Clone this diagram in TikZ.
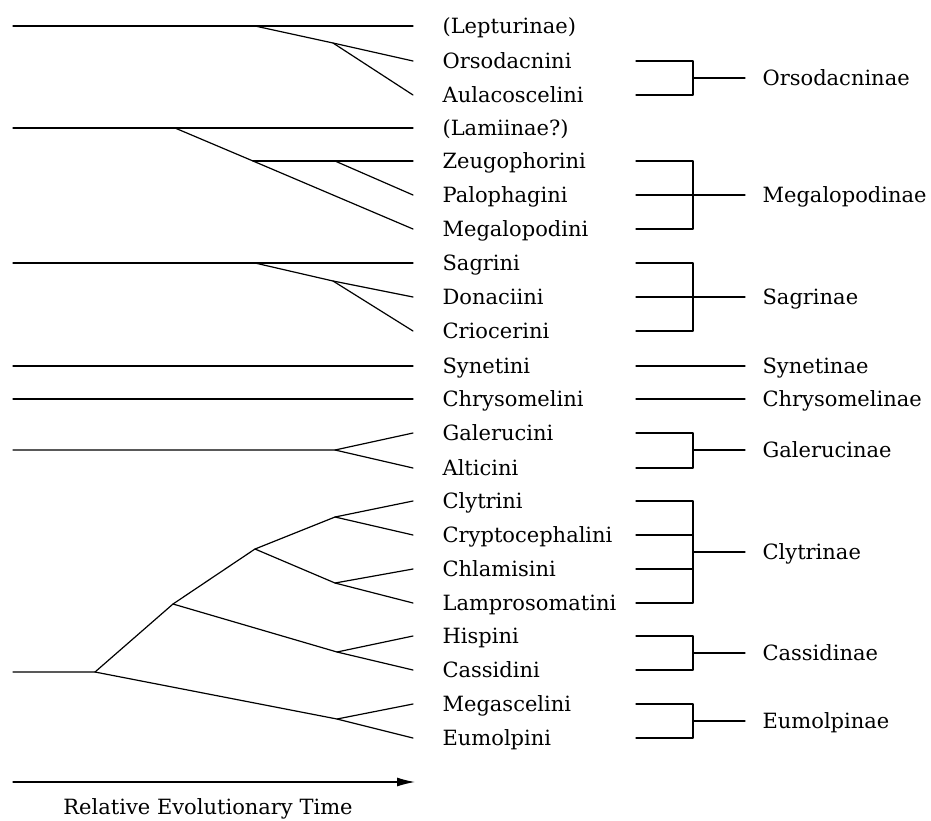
\documentclass[tikz,border=0pt]{standalone}
\usepackage{fontspec}
\setmainfont{DejaVu Serif}
\usetikzlibrary{arrows.meta}
\begin{document}
\begin{tikzpicture}[x=1pt,y=-1pt,line width=1.2pt,line cap=round,line join=round]
	\tikzstyle{tribu}=[anchor=west,inner xsep=29pt,inner ysep=0pt,text height=15pt,text depth=0pt,font=\fontsize{21}{25}\selectfont];
	\tikzstyle{famille}=[anchor=west,inner xsep=17pt,inner ysep=0pt,text height=15pt,text depth=0pt,font=\fontsize{21}{25}\selectfont];
	\useasboundingbox (0,0) rectangle (931,820);
	%% tribes (west anchor = tip of the tree)
	\node[tribu] (lept) at (413,26)  {(Lepturinae)};
	\node[tribu] (orso) at (413,61)  {Orsodacnini};
	\node[tribu] (aula) at (413,95)  {Aulacoscelini};
	\node[tribu] (lami) at (413,128) {(Lamiinae?)};
	\node[tribu] (zeug) at (413,161) {Zeugophorini};
	\node[tribu] (palo) at (413,195) {Palophagini};
	\node[tribu] (mgpd) at (413,229) {Megalopodini};
	\node[tribu] (sagr) at (413,263) {Sagrini};
	\node[tribu] (dona) at (413,297) {Donaciini};
	\node[tribu] (crio) at (413,331) {Criocerini};
	\node[tribu] (syne) at (413,366) {Synetini};
	\node[tribu] (chry) at (413,399) {Chrysomelini};
	\node[tribu] (gale) at (413,433) {Galerucini};
	\node[tribu] (alti) at (413,468) {Alticini};
	\node[tribu] (clyt) at (413,501) {Clytrini};
	\node[tribu] (cryp) at (413,535) {Cryptocephalini};
	\node[tribu] (chla) at (413,569) {Chlamisini};
	\node[tribu] (lamp) at (413,603) {Lamprosomatini};
	\node[tribu] (hisp) at (413,636) {Hispini};
	\node[tribu] (cass) at (413,670) {Cassidini};
	\node[tribu] (mgsc) at (413,704) {Megascelini};
	\node[tribu] (eumo) at (413,738) {Eumolpini};
	%% subfamilies
	\node[famille] (fOrso) at (745,78)  {Orsodacninae};
	\node[famille] (fMgpd) at (745,195) {Megalopodinae};
	\node[famille] (fSagr) at (745,297) {Sagrinae};
	\node[famille] (fSyne) at (745,366) {Synetinae};
	\node[famille] (fChry) at (745,399) {Chrysomelinae};
	\node[famille] (fGale) at (745,450) {Galerucinae};
	\node[famille] (fClyt) at (745,552) {Clytrinae};
	\node[famille] (fCass) at (745,653) {Cassidinae};
	\node[famille] (fEumo) at (745,721) {Eumolpinae};
	%% branching points
	\coordinate (lep0) at (13,26);  \coordinate (lep1) at (255,26);  \coordinate (lep2) at (333,43);
	\coordinate (lam0) at (13,128); \coordinate (lam1) at (175,128); \coordinate (lam2) at (253,161); \coordinate (lam3) at (335,161);
	\coordinate (sag0) at (13,263); \coordinate (sag1) at (255,263); \coordinate (sag2) at (333,281);
	\coordinate (syn0) at (13,366);
	\coordinate (chr0) at (13,399);
	\coordinate (gal0) at (13,450); \coordinate (gal1) at (335,450);
	\coordinate (rac0) at (13,672); \coordinate (rac1) at (95,672);
	\coordinate (n2) at (173,604);  \coordinate (n3) at (255,549);  \coordinate (n4) at (335,517);
	\coordinate (n5) at (335,583);  \coordinate (n6) at (337,652);  \coordinate (n7) at (337,719);
	%% tree
	\draw (lep0) -- (lept.west);
	\draw (lep1) -- (lep2) -- (orso.west);
	\draw (lep2) -- (aula.west);
	\draw (lam0) -- (lami.west);
	\draw (lam1) -- (lam2) -- (mgpd.west);
	\draw (lam2) -- (zeug.west);
	\draw (lam3) -- (palo.west);
	\draw (sag0) -- (sagr.west);
	\draw (sag1) -- (sag2) -- (dona.west);
	\draw (sag2) -- (crio.west);
	\draw (syn0) -- (syne.west);
	\draw (chr0) -- (chry.west);
	\draw (gal0) -- (gal1) -- (gale.west);
	\draw (gal1) -- (alti.west);
	\draw (rac0) -- (rac1) -- (n2) -- (n3) -- (n4) -- (clyt.west);
	\draw (n4) -- (cryp.west);
	\draw (n3) -- (n5) -- (chla.west);
	\draw (n5) -- (lamp.west);
	\draw (n2) -- (n6) -- (hisp.west);
	\draw (n6) -- (cass.west);
	\draw (rac1) -- (n7) -- (mgsc.west);
	\draw (n7) -- (eumo.west);
	%% brackets
	\coordinate (bl) at (636,0);
	\coordinate (bv) at (693,0);
	\draw (orso -| bl) -| (aula -| bv) -- (aula -| bl);
	\draw (fOrso -| bv) -- (fOrso.west);
	\draw (zeug -| bl) -| (mgpd -| bv) -- (mgpd -| bl);
	\draw (palo -| bl) -- (fMgpd.west);
	\draw (sagr -| bl) -| (crio -| bv) -- (crio -| bl);
	\draw (dona -| bl) -- (fSagr.west);
	\draw (syne -| bl) -- (fSyne.west);
	\draw (chry -| bl) -- (fChry.west);
	\draw (gale -| bl) -| (alti -| bv) -- (alti -| bl);
	\draw (fGale -| bv) -- (fGale.west);
	\draw (clyt -| bl) -| (lamp -| bv) -- (lamp -| bl);
	\draw (cryp -| bl) -- (cryp -| bv);
	\draw (chla -| bl) -- (chla -| bv);
	\draw (fClyt -| bv) -- (fClyt.west);
	\draw (hisp -| bl) -| (cass -| bv) -- (cass -| bl);
	\draw (fCass -| bv) -- (fCass.west);
	\draw (mgsc -| bl) -| (eumo -| bv) -- (eumo -| bl);
	\draw (fEumo -| bv) -- (fEumo.west);
	%% time axis
	\coordinate (t0) at (13,782);
	\coordinate (t1) at (415,782);
	\draw[-{Latex[length=18pt,width=9pt]}] (t0) -- (t1);
	\node[anchor=base,font=\fontsize{21}{25}\selectfont] (temps) at (208,814) {Relative Evolutionary Time};
\end{tikzpicture}
\end{document}
